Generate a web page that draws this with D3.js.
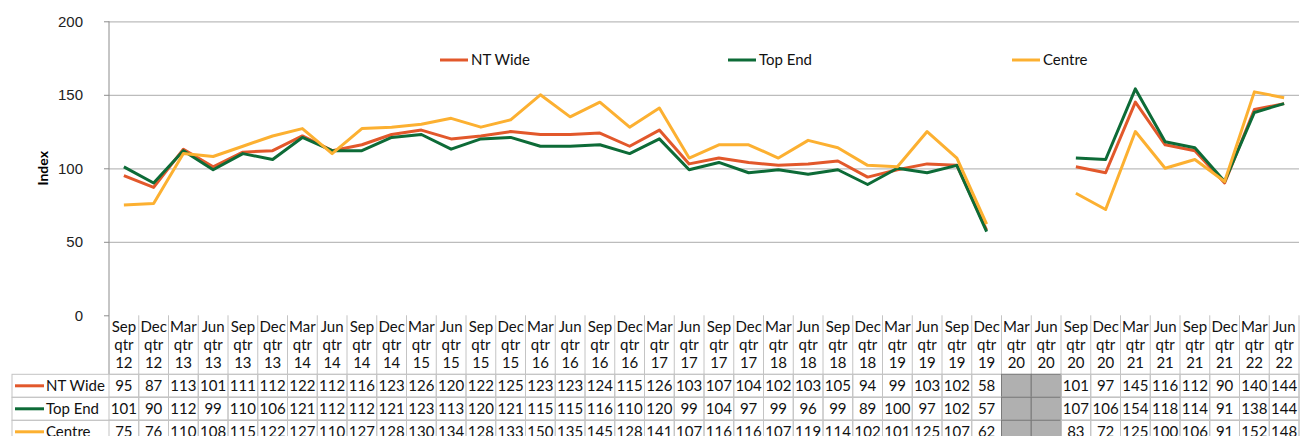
<!DOCTYPE html>
<html><head>
<meta charset="utf-8">
<title>NT index chart</title>
<script src="https://d3js.org/d3.v7.min.js"></script>
<style>
  body { margin: 0; background: #fff; }
  svg { font-family: Lato, "Open Sans", sans-serif; }
  .y-axis text { font-size: 15px; fill: #222; }
  .cell-text { font-size: 15px; fill: #111; text-anchor: middle; }
</style>
</head>
<body>
<svg id="chart" width="1301" height="436"></svg>
<script>

// quarters, split into the three header lines of the table
const quarters = ["Sep","Dec","Mar","Jun","Sep","Dec","Mar","Jun","Sep","Dec","Mar","Jun",
  "Sep","Dec","Mar","Jun","Sep","Dec","Mar","Jun","Sep","Dec","Mar","Jun","Sep","Dec","Mar","Jun",
  "Sep","Dec","Mar","Jun","Sep","Dec","Mar","Jun","Sep","Dec","Mar","Jun"];
const years = ["12","12","13","13","13","13","14","14","14","14","15","15",
  "15","15","16","16","16","16","17","17","17","17","18","18","18","18","19","19",
  "19","19","20","20","20","20","21","21","21","21","22","22"];
const categories = quarters.map((q, i) => q + " qtr " + years[i]);

const ntWide = [95,87,113,101,111,112,122,112,116,123,126,120,122,125,123,123,124,115,126,103,
  107,104,102,103,105,94,99,103,102,58,null,null,101,97,145,116,112,90,140,144];
const topEnd = [101,90,112,99,110,106,121,112,112,121,123,113,120,121,115,115,116,110,120,99,
  104,97,99,96,99,89,100,97,102,57,null,null,107,106,154,118,114,91,138,144];
const centre = [75,76,110,108,115,122,127,110,127,128,130,134,128,133,150,135,145,128,141,107,
  116,116,107,119,114,102,101,125,107,62,null,null,83,72,125,100,106,91,152,148];

const seriesNames = ["NT Wide", "Top End", "Centre"];
const seriesColors = ["#e2582b", "#0d6b37", "#fcb031"];
const yTicks = [0, 50, 100, 150, 200];

const series = [ntWide, topEnd, centre].map((vals, k) => ({
  name: seriesNames[k], color: seriesColors[k], values: vals
}));

const svg = d3.select("#chart");
const plotLeft = 109, plotRight = 1299, plotTop = 21.3, plotBottom = 315.3;
const rowH = 23, headBottom = 374.3;

const x = d3.scaleBand().domain(categories).range([plotLeft, plotRight]);
const y = d3.scaleLinear().domain([0, 200]).range([plotBottom, plotTop]);

// gridlines
svg.append("g")
  .attr("transform", "translate(" + plotLeft + ",0)")
  .call(d3.axisLeft(y).tickValues(yTicks.slice(1)).tickSize(-(plotRight - plotLeft)).tickFormat(""))
  .call(g => g.select(".domain").remove())
  .call(g => g.selectAll("line").attr("stroke", "#bcbcbc").attr("stroke-width", 1.3));

// y axis
svg.append("g").attr("class", "y-axis")
  .attr("transform", "translate(" + plotLeft + ",0)")
  .call(d3.axisLeft(y).tickValues(yTicks).tickSize(5).tickPadding(21))
  .call(g => g.select(".domain").attr("stroke", "#8c8c8c").attr("d", "M0," + plotTop + "V" + headBottom))
  .call(g => g.selectAll(".tick line").attr("stroke", "#8c8c8c"));

svg.append("text")
  .attr("transform", "translate(48," + y(100) + ") rotate(-90)")
  .attr("text-anchor", "middle")
  .style("font-size", "14px").style("font-weight", "bold")
  .text("Index");

// lines
const line = d3.line()
  .defined(d => d != null)
  .x((d, i) => x(categories[i]) + x.bandwidth() / 2)
  .y(d => y(d));

svg.append("g").selectAll("path").data(series).join("path")
  .attr("fill", "none")
  .attr("stroke", d => d.color)
  .attr("stroke-width", 3)
  .attr("stroke-linejoin", "round")
  .attr("d", d => line(d.values));

// legend in plot
const legendX = [440, 728, 1012];
const legend = svg.append("g").selectAll("g").data(series).join("g")
  .attr("transform", (d, i) => "translate(" + legendX[i] + ",60)");
legend.append("line").attr("x1", 0).attr("x2", 28)
  .attr("stroke", d => d.color).attr("stroke-width", 3);
legend.append("text").attr("x", 31).attr("dy", "0.35em")
  .style("font-size", "15px").attr("fill", "#111").text(d => d.name);

// data table
const table = svg.append("g");
const gridColor = "#c4c4c4";

// header
const head = table.append("g").selectAll("g").data(categories).join("g")
  .attr("transform", d => "translate(" + x(d) + ",0)");
head.append("line").attr("x1", x.bandwidth()).attr("x2", x.bandwidth())
  .attr("y1", plotBottom).attr("y2", headBottom).attr("stroke", gridColor);
head.append("text").attr("class", "cell-text").attr("x", x.bandwidth() / 2)
  .attr("y", 332).text((d, i) => quarters[i]);
head.append("text").attr("class", "cell-text").attr("x", x.bandwidth() / 2)
  .attr("y", 349.5).text("qtr");
head.append("text").attr("class", "cell-text").attr("x", x.bandwidth() / 2)
  .attr("y", 367.5).text((d, i) => years[i]);

// body rows
const rows = table.append("g").selectAll("g").data(series).join("g")
  .attr("transform", (d, k) => "translate(0," + (headBottom + k * rowH) + ")");

rows.append("rect").attr("x", 12).attr("width", plotRight - 12).attr("height", rowH)
  .attr("fill", "none").attr("stroke", gridColor);
rows.append("line").attr("x1", 15).attr("x2", 44)
  .attr("y1", rowH / 2).attr("y2", rowH / 2)
  .attr("stroke", d => d.color).attr("stroke-width", 3);
rows.append("text").attr("x", 46).attr("y", 17)
  .style("font-size", "15px").attr("fill", "#111").text(d => d.name);

rows.each(function(s) {
  const cells = d3.select(this).selectAll("g.cell")
    .data(s.values.map((v, i) => ({ v: v, c: categories[i] })))
    .join("g").attr("class", "cell")
    .attr("transform", d => "translate(" + x(d.c) + ",0)");
  cells.append("rect").attr("width", x.bandwidth()).attr("height", rowH)
    .attr("fill", d => d.v == null ? "#b0b0b0" : "none")
    .attr("stroke", d => d.v == null ? "#7a7a7a" : gridColor);
  cells.filter(d => d.v != null).append("text").attr("class", "cell-text")
    .attr("x", x.bandwidth() / 2).attr("y", 17).text(d => d.v);
});

</script>
</body>
</html>
